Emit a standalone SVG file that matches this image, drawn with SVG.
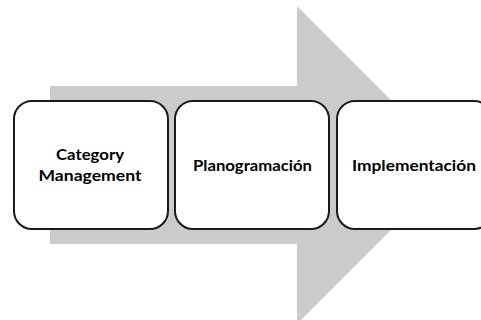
<svg xmlns="http://www.w3.org/2000/svg" width="481" height="320" viewBox="0 0 481 320">
  <style>
    .box { fill: #ffffff; stroke: #1a1a1a; stroke-width: 2; }
    .lbl { font-family: Lato, "Liberation Sans", sans-serif; font-weight: bold; font-size: 15px; fill: #000000; text-anchor: middle; }
  </style>
  <g id="connectors">
    <!-- broad process arrow behind the steps -->
    <polygon points="50,86 297,86 297,6 456,165 297,324 297,244 50,244" fill="#cbcbcb"/>
  </g>
  <g id="step-category">
    <rect class="box" x="14" y="101" width="154" height="128" rx="18" ry="18"/>
    <text class="lbl" x="90" y="160" textLength="68" lengthAdjust="spacingAndGlyphs">Category</text>
    <text class="lbl" x="90" y="181" textLength="103" lengthAdjust="spacingAndGlyphs">Management</text>
  </g>
  <g id="step-planogram">
    <rect class="box" x="175" y="101" width="154" height="128" rx="18" ry="18"/>
    <text class="lbl" x="252.5" y="171" textLength="119" lengthAdjust="spacingAndGlyphs">Planogramación</text>
  </g>
  <g id="step-implementation">
    <rect class="box" x="337" y="101" width="155" height="128" rx="18" ry="18"/>
    <text class="lbl" x="414" y="171" textLength="124" lengthAdjust="spacingAndGlyphs">Implementación</text>
  </g>
</svg>
